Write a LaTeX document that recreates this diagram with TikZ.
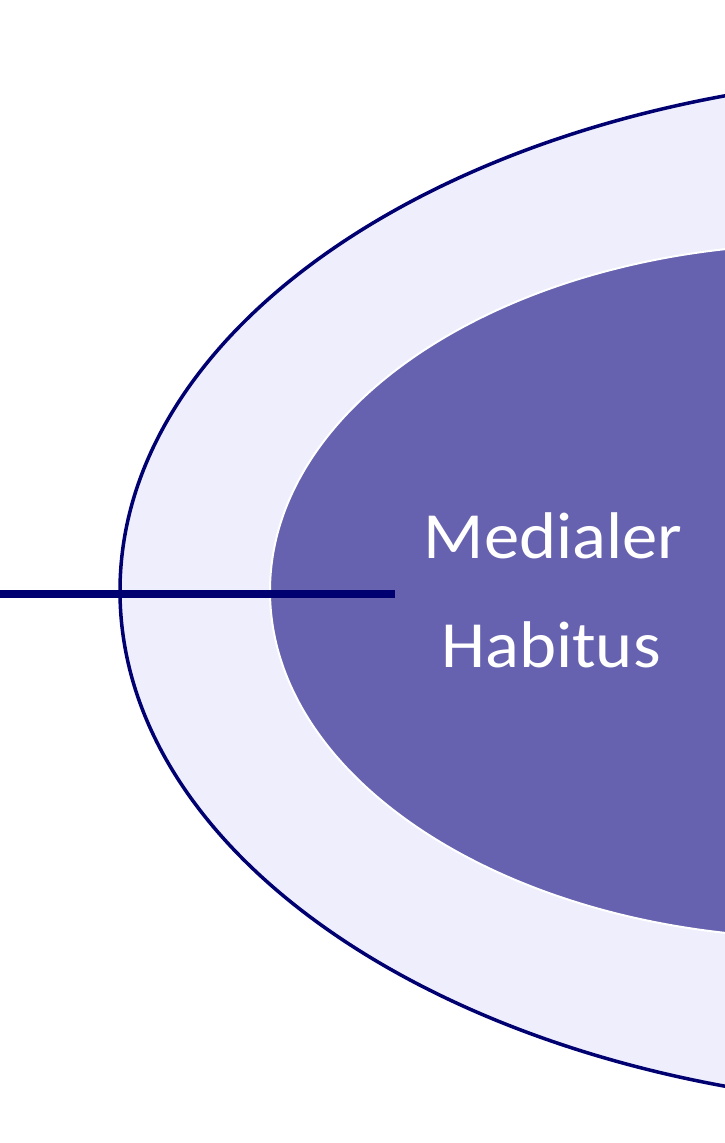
\documentclass[tikz,border=0pt]{standalone}
\usepackage{fontspec}
\setmainfont{Carlito}
\definecolor{navy}{RGB}{0,0,112}
\definecolor{ringfill}{RGB}{238,238,252}
\definecolor{corefill}{RGB}{102,98,175}
\tikzset{
  outerring/.style={fill=ringfill, draw=navy, line width=3.5pt},
  innercore/.style={fill=corefill, draw=white, line width=2pt},
  connector/.style={draw=navy, line width=8pt},
  corelabel/.style={text=white, font=\fontsize{66}{66}\selectfont, anchor=base, inner sep=0pt, xscale=1.07}
}
\begin{document}
\begin{tikzpicture}[x=1pt,y=-1pt]
  \useasboundingbox (0,0) rectangle (725,1143);
  \clip (0,0) rectangle (725,1143);
  \fill[white] (0,0) rectangle (725,1143);
  \path[outerring] (970,591) ellipse [x radius=850pt, y radius=517pt];
  \path[innercore] (820,591) ellipse [x radius=550pt, y radius=347pt];
  \coordinate (lstart) at (0,594);
  \coordinate (lend) at (395,594);
  \draw[connector] (lstart) -- (lend);
  \node[corelabel] (med) at (553,558) {Medialer};
  \node[corelabel] (hab) at (551,667) {Habitus};
\end{tikzpicture}
\end{document}
